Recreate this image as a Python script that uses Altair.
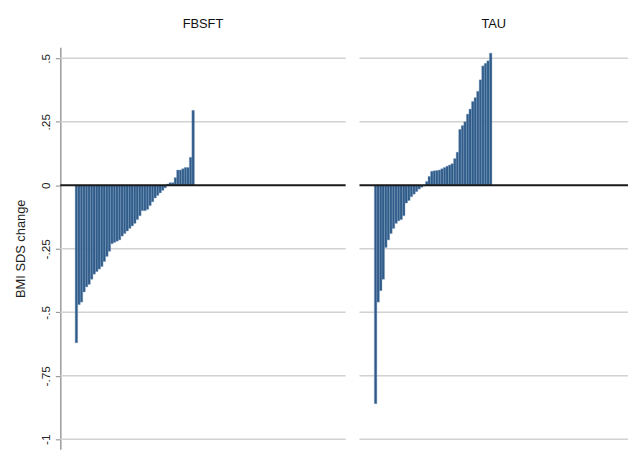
import altair as alt
import pandas as pd

groups = ["FBSFT", "TAU"]

fbsft = [-0.62, -0.47, -0.46, -0.42, -0.40, -0.39, -0.37, -0.35, -0.34, -0.33,
         -0.32, -0.30, -0.28, -0.26, -0.23, -0.225, -0.22, -0.215, -0.20, -0.19,
         -0.18, -0.17, -0.16, -0.15, -0.135, -0.12, -0.10, -0.10, -0.095, -0.08,
         -0.065, -0.05, -0.04, -0.03, -0.02, -0.01, 0.005, 0.01, 0.01, 0.03,
         0.06, 0.06, 0.065, 0.07, 0.07, 0.11, 0.295]

tau = [-0.86, -0.46, -0.415, -0.37, -0.245, -0.215, -0.19, -0.17, -0.15, -0.14,
       -0.135, -0.12, -0.07, -0.06, -0.045, -0.035, -0.025, -0.015, -0.008, -0.003,
       0.015, 0.035, 0.055, 0.057, 0.058, 0.06, 0.065, 0.07, 0.075, 0.08,
       0.085, 0.105, 0.13, 0.22, 0.235, 0.25, 0.28, 0.30, 0.33, 0.345,
       0.37, 0.415, 0.47, 0.48, 0.49, 0.52]

y_ticks = [0.5, 0.25, 0, -0.25, -0.5, -0.75, -1]
grid_values = [0.5, 0.25, -0.25, -0.5, -0.75, -1]

BAR = "#2f5b88"
FONT = "Liberation Sans"
yscale = alt.Scale(domain=[-1.039, 0.543], nice=False, zero=False)


def frame(vals):
    return pd.DataFrame({
        "rank": list(range(len(vals))),
        "rank_end": [i + 1 for i in range(len(vals))],
        "change": vals,
    })


def panel(vals, title, width, xdomain, show_axis):
    xscale = alt.Scale(domain=xdomain, nice=False, zero=False)
    if show_axis:
        yaxis = alt.Axis(values=y_ticks, grid=False, title="BMI SDS change",
                         labelExpr="replace(toString(datum.value), '0.', '.')",
                         labelAngle=270, labelAlign="center", labelBaseline="bottom",
                         labelFontSize=12, labelFont=FONT, labelColor="#222222",
                         labelPadding=3, tickSize=5, tickColor="#9a9a9a", tickWidth=1.2,
                         domainColor="#9a9a9a", domainWidth=1.5,
                         titleFont=FONT, titleFontSize=13, titleFontWeight="normal",
                         titleColor="#222222", titlePadding=12)
    else:
        yaxis = None
    ytitle = "BMI SDS change"
    grid = alt.Chart(pd.DataFrame({"v": grid_values})).mark_rule(
        color="#d2d2d2", strokeWidth=1.5
    ).encode(y=alt.Y("v:Q", scale=yscale, axis=yaxis, title=ytitle))
    bars = alt.Chart(frame(vals)).mark_bar(
        color=BAR, stroke="#7f9ec2", strokeWidth=0.4
    ).encode(
        x=alt.X("rank:Q", scale=xscale, axis=None),
        x2="rank_end:Q",
        y=alt.Y("change:Q", scale=yscale, axis=yaxis, title=ytitle),
        y2=alt.datum(0),
    )
    zero = alt.Chart(pd.DataFrame({"v": [0]})).mark_rule(
        color="#1a1a1a", strokeWidth=2
    ).encode(y=alt.Y("v:Q", scale=yscale, axis=yaxis, title=ytitle))
    return alt.layer(grid, bars, zero).properties(
        width=width, height=407,
        title=alt.TitleParams(title, font=FONT, fontSize=13, fontWeight="normal",
                              color="#111111", anchor="middle", offset=17),
    )


left = panel(fbsft, groups[0], 289, [-5.84, 106.6], True)
right = panel(tau, groups[1], 272, [-5.8, 99.2], False)

chart = alt.hconcat(left, right, spacing=12).properties(
    padding={"left": 7, "top": 7, "right": 0, "bottom": 0}
).configure_view(stroke=None)

chart.save("out.html", embed_options={"renderer": "svg", "actions": False})
